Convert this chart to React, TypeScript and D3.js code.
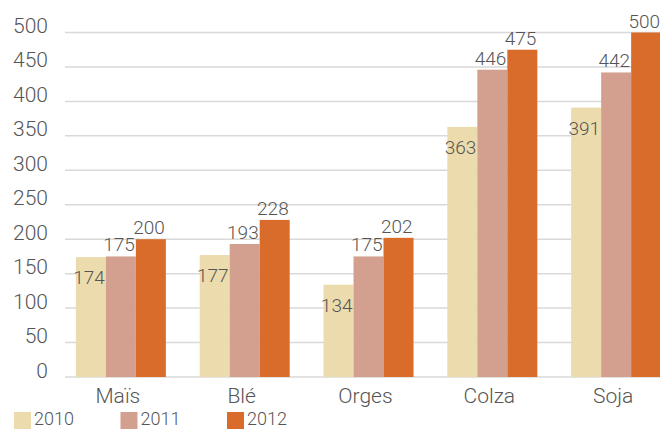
import React, { useEffect, useRef } from "react";
import * as d3 from "d3";

const CATEGORIES = ["Maïs", "Blé", "Orges", "Colza", "Soja"];
const YEARS = ["2010", "2011", "2012"];
const VALUES_2010 = [174, 177, 134, 363, 391];
const VALUES_2011 = [175, 193, 175, 446, 442];
const VALUES_2012 = [200, 228, 202, 475, 500];
const Y_TICKS = [0, 50, 100, 150, 200, 250, 300, 350, 400, 450, 500];
const COLORS = ["#ECDCAD", "#D3A08F", "#D96C2A"];

const FONT = "Roboto, 'Open Sans', sans-serif";
const TEXT = "#555";

const App = () => {
  const ref = useRef<SVGSVGElement>(null);

  useEffect(() => {
    const width = 660;
    const height = 430;
    const svg = d3.select(ref.current).attr("width", width).attr("height", height);
    svg.selectAll("*").remove();

    const series = [VALUES_2010, VALUES_2011, VALUES_2012];

    const y = d3.scaleLinear().domain([0, 500]).range([377, 32.5]);
    const x = d3
      .scaleBand()
      .domain(CATEGORIES)
      .range([59, 678])
      .paddingInner(0.273)
      .paddingOuter(0.136);
    const xi = d3.scaleBand().domain(YEARS).range([0, x.bandwidth()]);

    // grid
    svg
      .append("g")
      .selectAll("line")
      .data(Y_TICKS)
      .join("line")
      .attr("x1", 65)
      .attr("x2", 660)
      .attr("y1", (d) => y(d))
      .attr("y2", (d) => y(d))
      .attr("stroke", "#d9d9d9")
      .attr("stroke-width", 1.5);

    // y labels
    svg
      .append("g")
      .selectAll("text")
      .data(Y_TICKS)
      .join("text")
      .attr("x", 48)
      .attr("y", (d) => y(d) + 0.5)
      .attr("text-anchor", "end")
      .attr("font-family", FONT)
      .attr("font-weight", 300)
      .attr("font-size", 21)
      .attr("fill", TEXT)
      .text((d) => d);

    // bars
    YEARS.forEach((year, si) => {
      const g = svg.append("g").attr("fill", COLORS[si]);
      g.selectAll("rect")
        .data(series[si])
        .join("rect")
        .attr("x", (_, i) => (x(CATEGORIES[i]) as number) + (xi(year) as number))
        .attr("y", (d) => y(d))
        .attr("width", xi.bandwidth())
        .attr("height", (d) => y(0) - y(d));
    });

    // value labels
    YEARS.forEach((year, si) => {
      svg
        .append("g")
        .selectAll("text")
        .data(series[si])
        .join("text")
        .attr("x", (_, i) => (x(CATEGORIES[i]) as number) + (xi(year) as number) + xi.bandwidth() - 1)
        .attr("y", (d) => (si === 0 ? y(d) + 27 : y(d) - 5))
        .attr("text-anchor", "end")
        .attr("font-family", FONT)
        .attr("font-weight", 300)
        .attr("font-size", 19)
        .attr("fill", TEXT)
        .text((d) => d);
    });

    // category labels
    svg
      .append("g")
      .selectAll("text")
      .data(CATEGORIES)
      .join("text")
      .attr("x", (d) => (x(d) as number) + x.bandwidth() / 2 - 3)
      .attr("y", 403)
      .attr("text-anchor", "middle")
      .attr("font-family", FONT)
      .attr("font-weight", 300)
      .attr("font-size", 21)
      .attr("fill", TEXT)
      .text((d) => d);

    // legend
    const legend = svg.append("g");
    YEARS.forEach((year, i) => {
      const lx = 14 + i * 106.5;
      legend
        .append("rect")
        .attr("x", lx)
        .attr("y", 412)
        .attr("width", 17)
        .attr("height", 17)
        .attr("fill", COLORS[i]);
      legend
        .append("text")
        .attr("x", lx + 20)
        .attr("y", 425)
        .attr("font-family", FONT)
        .attr("font-weight", 300)
        .attr("font-size", 18)
        .attr("fill", TEXT)
        .text(year);
    });
  }, []);

  return <svg ref={ref} style={{ position: "absolute", left: 0, top: 0 }} />;
};

export default App;
